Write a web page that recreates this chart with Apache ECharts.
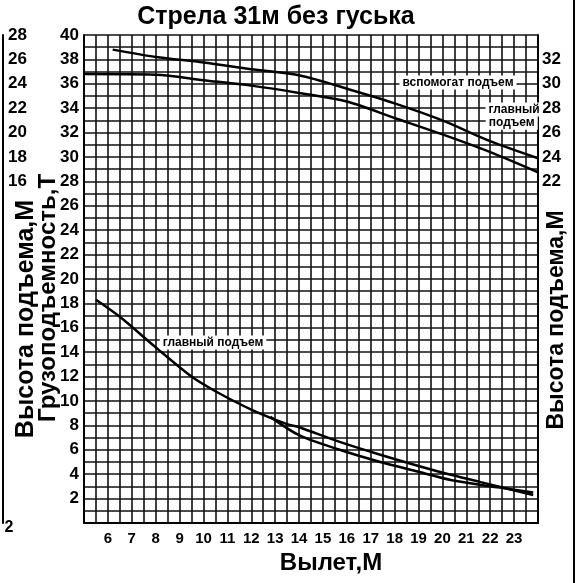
<!DOCTYPE html>
<html><head><meta charset="utf-8">
<script src="https://cdn.jsdelivr.net/npm/echarts@6/dist/echarts.min.js"></script>
<style>html,body{margin:0;padding:0;background:#fff}#c{width:578px;height:583px}</style>
</head><body><div id="c"></div>
<script>
// ---- data ----
const xTickLabels = [6,7,8,9,10,11,12,13,14,15,16,17,18,19,20,21,22,23];
const leftTickLabels = [2,4,6,8,10,12,14,16,18,20,22,24,26,28,30,32,34,36,38,40];
const rightTickLabels = [22,24,26,28,30,32];
const farLeftTickLabels = [16,18,20,22,24,26,28];

// Вспомогательный подъем (высота)
const auxX = [6.2, 8, 10, 12, 14, 16, 18, 20, 22, 24];
const auxY = [38.8, 38.2, 37.75, 37.2, 36.7, 35.6, 34.4, 33.0, 31.3, 29.9];
// Главный подъем (высота)
const mainHX = [5, 8, 10, 12, 14, 16, 18, 20, 22, 24];
const mainHY = [36.8, 36.75, 36.3, 35.85, 35.25, 34.55, 33.2, 31.85, 30.4, 28.75];
// Главный подъем (грузоподъемность)
const loadX = [5.5, 6.5, 8, 9.5, 10.5, 12, 13.5, 14, 15.7, 17.4, 19.6, 21.6, 23.8];
const loadY = [18.3, 16.9, 14.4, 12.0, 10.8, 9.3, 8.1, 7.85, 6.65, 5.6, 4.35, 3.35, 2.3];
// Вторая ветвь грузоподъемности
const load2X = [12.8, 14, 15.7, 17.4, 19, 20.4, 22.4, 23.8];
const load2Y = [8.7, 7.2, 6.0, 5.0, 4.2, 3.5, 2.9, 2.5];

// annotation texts
const annAux = 'вспомогат подъем';
const annMain1 = 'главный';
const annMain2 = 'подъем';
const annLoad = 'главный подъем';

const pairs = (xs, ys) => xs.map((x, i) => [x, ys[i]]);
const FF = '"Liberation Sans", Arial, sans-serif';
const NARROW = '"Liberation Sans Narrow", "Liberation Sans", Arial, sans-serif';

const chart = echarts.init(document.getElementById('c'), null, {renderer: 'canvas'});
const gridCol = '#111';
const lineStyle = {color: '#000', width: 2.5};
const annLabel = {
  show: true, position: 'inside', formatter: '{b}', color: '#000', fontFamily: NARROW, fontWeight: 'bold', fontSize: 12,
  backgroundColor: '#fff', padding: [1, 3]
};
const mp = (name, coord) => ({name: name, coord: coord, symbol: 'circle', symbolSize: 1, itemStyle: {color: 'rgba(0,0,0,0)'}, label: annLabel});

chart.setOption({
  animation: false,
  backgroundColor: '#fff',
  grid: {left: 84, right: 40, top: 35, bottom: 60, containLabel: false},
  xAxis: {
    type: 'value', min: 5, max: 24, interval: 0.5,
    axisLine: {show: true, lineStyle: {color: '#000', width: 2}},
    axisTick: {show: false},
    splitLine: {show: true, lineStyle: {color: gridCol, width: 1.6}},
    axisLabel: {
      color: '#000', fontFamily: FF, fontWeight: 'bold', fontSize: 15, margin: 8,
      formatter: v => xTickLabels.includes(v) ? String(v) : ''
    }
  },
  yAxis: [
    {
      type: 'value', min: 0, max: 40, interval: 1, position: 'left',
      axisLine: {show: true, lineStyle: {color: '#000', width: 2}},
      axisTick: {show: false},
      splitLine: {show: true, lineStyle: {color: gridCol, width: 1.6}},
      axisLabel: {
        color: '#000', fontFamily: FF, fontWeight: 'bold', fontSize: 17, margin: 5,
        formatter: v => leftTickLabels.includes(v) ? String(v) : ''
      }
    },
    {
      type: 'value', min: -6, max: 34, interval: 1, position: 'right',
      axisLine: {show: true, lineStyle: {color: '#000', width: 2}},
      axisTick: {show: false},
      splitLine: {show: false},
      axisLabel: {
        color: '#000', fontFamily: FF, fontWeight: 'bold', fontSize: 17, margin: 4,
        formatter: v => rightTickLabels.includes(v) ? String(v) : ''
      }
    },
    {
      type: 'value', min: -12, max: 28, interval: 1, position: 'left', offset: 81,
      axisLine: {show: true, lineStyle: {color: '#000', width: 2}},
      axisTick: {show: false},
      splitLine: {show: false},
      axisLabel: {
        inside: true, color: '#000', fontFamily: FF, fontWeight: 'bold', fontSize: 17, margin: 5,
        formatter: v => farLeftTickLabels.includes(v) ? String(v) : ''
      }
    }
  ],
  series: [
    {
      type: 'line', name: 'вспомогат подъем', data: pairs(auxX, auxY), yAxisIndex: 0,
      smooth: 0.3, showSymbol: false, lineStyle: lineStyle,
      markPoint: {data: [mp(annAux, [20.65, 36.1])]}
    },
    {
      type: 'line', name: 'главный подъем', data: pairs(mainHX, mainHY), yAxisIndex: 0,
      smooth: 0.3, showSymbol: false, lineStyle: lineStyle,
      markPoint: {data: [mp(annMain1, [23.0, 33.9]), mp(annMain2, [22.9, 32.8])]}
    },
    {
      type: 'line', name: 'главный подъем груз', data: pairs(loadX, loadY), yAxisIndex: 0,
      smooth: 0.3, showSymbol: false, lineStyle: lineStyle,
      markPoint: {data: [mp(annLoad, [10.4, 14.8])]}
    },
    {
      type: 'line', name: 'ветвь', data: pairs(load2X, load2Y), yAxisIndex: 0,
      smooth: 0.3, showSymbol: false, lineStyle: lineStyle
    }
  ],
  graphic: [
    {type: 'text', x: 276, y: 17, style: {text: 'Стрела 31м без гуська', fill: '#000', font: 'bold 25px ' + FF, textAlign: 'center', textVerticalAlign: 'middle'}},
    {type: 'text', x: 331, y: 563, style: {text: 'Вылет,М', fill: '#000', font: 'bold 24px ' + FF, textAlign: 'center', textVerticalAlign: 'middle'}},
    {type: 'text', x: 26, y: 319, rotation: Math.PI / 2, style: {text: 'Высота подъема,М', fill: '#000', font: 'bold 25px ' + FF, textAlign: 'center', textVerticalAlign: 'middle'}},
    {type: 'text', x: 48, y: 298, rotation: Math.PI / 2, style: {text: 'Грузоподъемность,Т', fill: '#000', font: 'bold 24px ' + FF, textAlign: 'center', textVerticalAlign: 'middle'}},
    {type: 'text', x: 557, y: 320, rotation: Math.PI / 2, style: {text: 'Высота подъема,М', fill: '#000', font: 'bold 23px ' + FF, textAlign: 'center', textVerticalAlign: 'middle'}},
    {type: 'text', x: 9, y: 528, style: {text: '2', fill: '#000', font: 'bold 16px ' + FF, textAlign: 'center', textVerticalAlign: 'middle'}},
    {type: 'line', shape: {x1: 574, y1: 0, x2: 574, y2: 583}, style: {stroke: '#000', lineWidth: 2}}
  ]
});
</script>
</body></html>
